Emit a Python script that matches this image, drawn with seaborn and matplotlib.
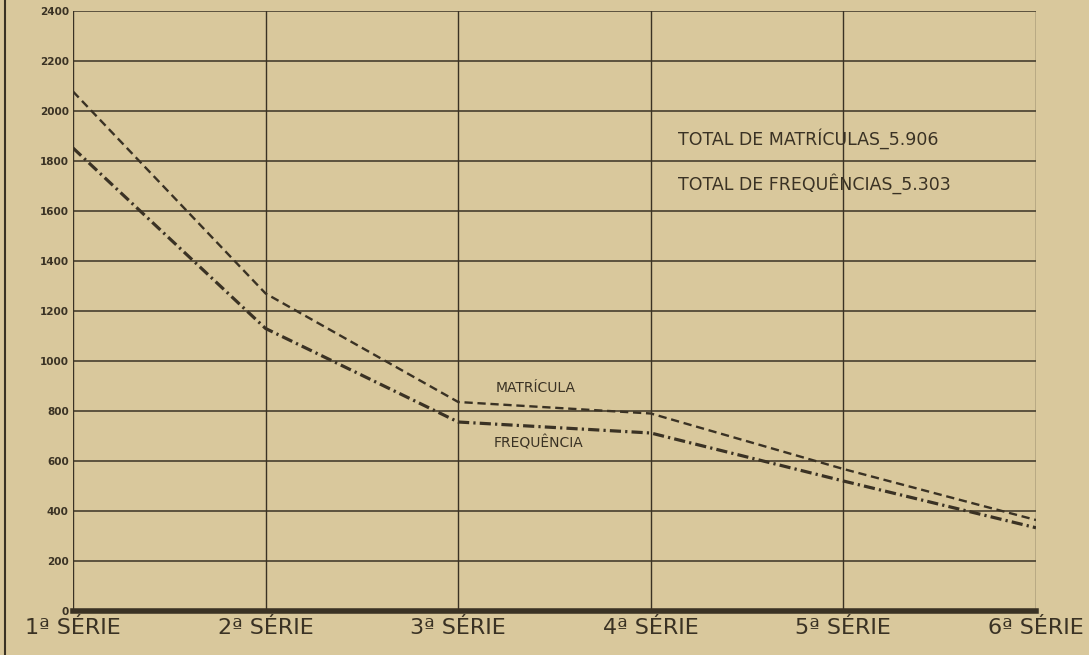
import matplotlib
matplotlib.use("Agg")
import matplotlib.pyplot as plt
from matplotlib.lines import Line2D
import seaborn as sns
import pandas as pd

# values
series = ["1ª SÉRIE", "2ª SÉRIE", "3ª SÉRIE", "4ª SÉRIE", "5ª SÉRIE", "6ª SÉRIE"]
matricula = [2078, 1270, 836, 790, 568, 364]
frequencia = [1852, 1130, 756, 712, 520, 333]
y_ticks = [0, 200, 400, 600, 800, 1000, 1200, 1400, 1600, 1800, 2000, 2200, 2400]

paper = "#d9c89c"
ink = "#3a3224"

sns.set_theme(style="white")
plt.rcParams["font.family"] = ["DejaVu Sans"]

df = pd.DataFrame({"pos": range(len(series)), "mat": matricula, "freq": frequencia})

fig = plt.figure(figsize=(10.89, 6.55), dpi=100, facecolor=paper)
ax = fig.add_axes([73 / 1089, 1 - 611 / 655, (1036 - 73) / 1089, 600 / 655])
ax.set_facecolor(paper)

# grid
for v in y_ticks:
    ax.axhline(v, color=ink, lw=1.1, zorder=1)
for i in range(len(series)):
    ax.axvline(i, color=ink, lw=1.0, zorder=1)

sns.lineplot(data=df, x="pos", y="mat", ax=ax, color=ink, lw=1.7, zorder=3)
ax.lines[-1].set_dashes([3.5, 2])
sns.lineplot(data=df, x="pos", y="freq", ax=ax, color=ink, lw=2.3, zorder=3)
ax.lines[-1].set_dashes([3.5, 1.3, 0.7, 1.3])

ax.set_xlim(0, len(series) - 1)
ax.set_ylim(0, 2400)
ax.set_yticks(y_ticks)
ax.set_yticklabels([str(v) for v in y_ticks], fontsize=7.5, fontweight="bold", color=ink)
ax.set_xticks(range(len(series)))
ax.set_xticklabels(series, fontsize=16, color=ink)
ax.tick_params(axis="both", length=0, pad=3)
ax.tick_params(axis="x", pad=5)
ax.set_xlabel("")
ax.set_ylabel("")

for side in ["top", "right", "left"]:
    ax.spines[side].set_visible(False)
ax.spines["bottom"].set_color(ink)
ax.spines["bottom"].set_linewidth(4)

ax.text(0.628, 0.788, "TOTAL DE MATRÍCULAS_5.906", transform=ax.transAxes,
        fontsize=12.5, color=ink, va="center")
ax.text(0.628, 0.713, "TOTAL DE FREQUÊNCIAS_5.303", transform=ax.transAxes,
        fontsize=12.5, color=ink, va="center")
ax.text(0.439, 0.372, "MATRÍCULA", transform=ax.transAxes,
        fontsize=10, color=ink, va="center")
ax.text(0.437, 0.28, "FREQUÊNCIA", transform=ax.transAxes,
        fontsize=10, color=ink, va="center")

# scan border on the left
fig.add_artist(Line2D([5 / 1089, 5 / 1089], [0, 1], color=ink, lw=1.5))

fig.savefig("out.png", dpi=100, facecolor=paper)
